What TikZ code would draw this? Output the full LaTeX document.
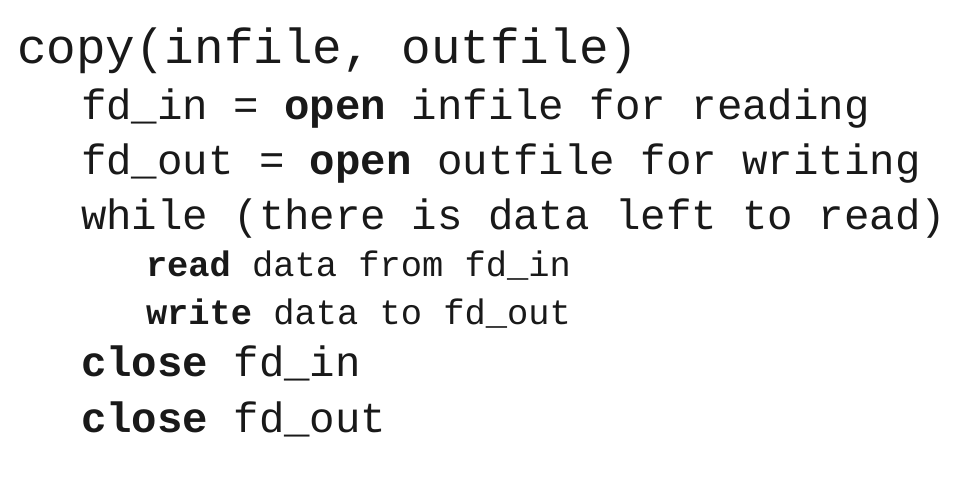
\documentclass[tikz,border=0pt]{standalone}
\usepackage{fontspec}
\setmonofont{Liberation Mono}
\begin{document}
\begin{tikzpicture}[x=1pt,y=1pt,
  codeline/.style={anchor=base west,inner sep=0pt,outer sep=0pt,text=black!90},
  big/.style={codeline,font=\fontsize{49.3}{50}\ttfamily},
  mid/.style={codeline,font=\fontsize{42.4}{43}\ttfamily},
  small/.style={codeline,font=\fontsize{35.4}{36}\ttfamily}]
\useasboundingbox[fill=white] (0,0) rectangle (973,-477);
\node[big]   (l1) at (17,-63)  {copy(infile, outfile)};
\node[mid]   (l2) at (81,-119) {fd\_in = \textbf{open} infile for reading};
\node[mid]   (l3) at (81,-174) {fd\_out = \textbf{open} outfile for writing};
\node[mid]   (l4) at (81,-229) {while (there is data left to read)};
\node[small] (l5) at (146,-276) {\textbf{read} data from fd\_in};
\node[small] (l6) at (146,-324) {\textbf{write} data to fd\_out};
\node[mid]   (l7) at (81,-376) {\textbf{close} fd\_in};
\node[mid]   (l8) at (81,-432) {\textbf{close} fd\_out};
\end{tikzpicture}
\end{document}
